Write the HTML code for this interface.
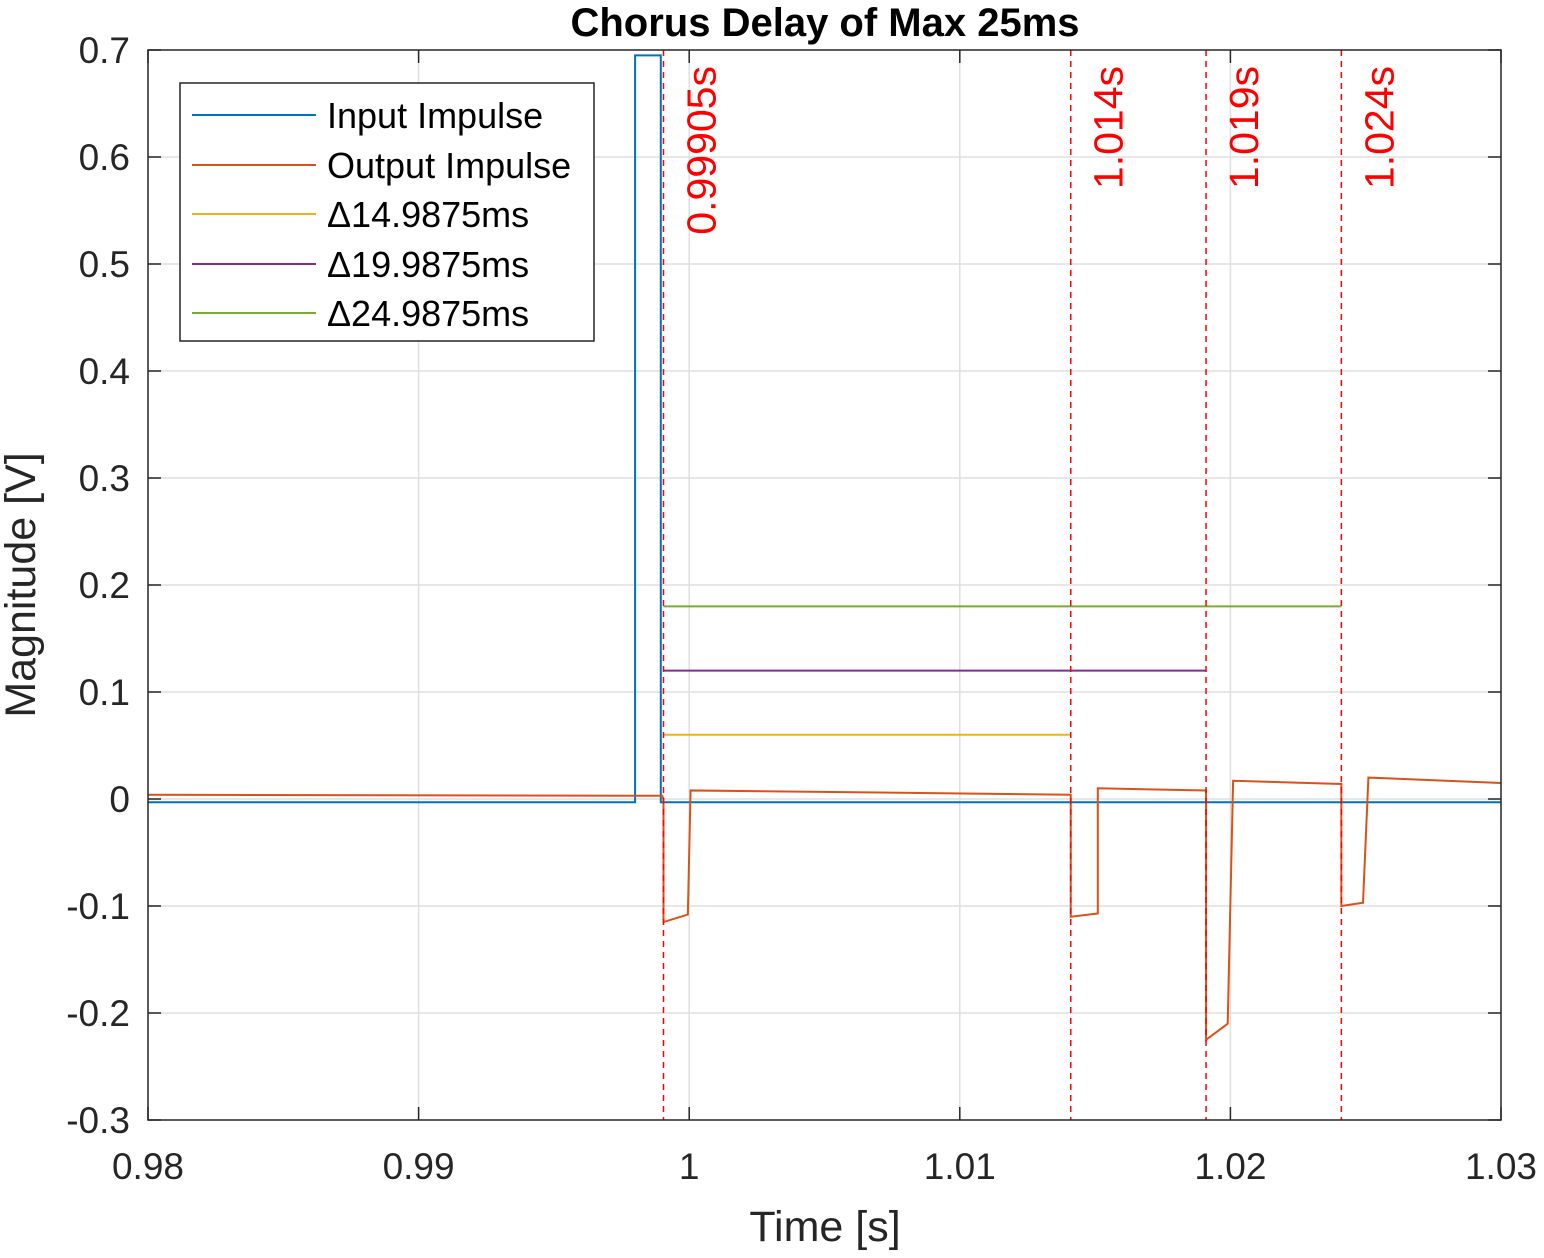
<!DOCTYPE html>
<html><head><meta charset="utf-8"><style>
body{margin:0;background:#fff;}
svg text{font-family:"Liberation Sans",Arial,sans-serif;}
</style></head><body>
<svg id="chart" width="1544" height="1253" xmlns="http://www.w3.org/2000/svg">
<rect width="1544" height="1253" fill="#fff"/>
<g id="grid"></g>
<g id="series"></g>
<g id="axes"></g>
<text x="825" y="36" text-anchor="middle" font-size="40" font-weight="bold">Chorus Delay of Max 25ms</text>
<text x="825" y="1241" text-anchor="middle" font-size="43" fill="#262626">Time [s]</text>
<text transform="translate(35,585) rotate(-90)" text-anchor="middle" font-size="43" fill="#262626">Magnitude [V]</text>
<g>
<rect x="180" y="83" width="414" height="258" fill="#fff" stroke="#262626" stroke-width="1.5"/>
<line x1="192" y1="115" x2="316" y2="115" stroke="#0072BD" stroke-width="2"/><text x="327" y="128" font-size="36">Input Impulse</text>
<line x1="192" y1="165" x2="316" y2="165" stroke="#D95319" stroke-width="2"/><text x="327" y="178" font-size="36">Output Impulse</text>
<line x1="192" y1="214" x2="316" y2="214" stroke="#EDB120" stroke-width="2"/><text x="327" y="227" font-size="36">Δ14.9875ms</text>
<line x1="192" y1="264" x2="316" y2="264" stroke="#7E2F8E" stroke-width="2"/><text x="327" y="277" font-size="36">Δ19.9875ms</text>
<line x1="192" y1="313" x2="316" y2="313" stroke="#77AC30" stroke-width="2"/><text x="327" y="326" font-size="36">Δ24.9875ms</text>
</g>
</svg>
<script>
const xTicks=[0.98,0.99,1,1.01,1.02,1.03];
const xTickLabels=["0.98","0.99","1","1.01","1.02","1.03"];
const yTicks=[-0.3,-0.2,-0.1,0,0.1,0.2,0.3,0.4,0.5,0.6,0.7];
const yTickLabels=["-0.3","-0.2","-0.1","0","0.1","0.2","0.3","0.4","0.5","0.6","0.7"];
const inputT=[0.98,0.998,0.998,0.99895,0.99895,1.03];
const inputV=[-0.003,-0.003,0.695,0.695,-0.003,-0.003];
const outputT=[0.98,0.999,0.99905,0.99905,0.99995,1.00005,1.0141,1.0141,1.0151,1.0151,1.0191,1.0191,1.0199,1.0201,1.0241,1.0241,1.0249,1.0251,1.03];
const outputV=[0.004,0.003,0.0,-0.115,-0.108,0.008,0.004,-0.11,-0.107,0.01,0.008,-0.225,-0.21,0.017,0.014,-0.1,-0.097,0.02,0.015];
const markerTimes=[0.99905,1.0141,1.0191,1.0241];
const markerLabels=["0.99905s","1.014s","1.019s","1.024s"];
const deltaLevels=[0.06,0.12,0.18];
const deltaEnds=[1.0141,1.0191,1.0241];
const deltaColors=["#EDB120","#7E2F8E","#77AC30"];
const X0=148,X1=1501,Y0=50,Y1=1120;
const xs=t=>X0+(t-0.98)/0.05*(X1-X0);
const ys=v=>Y1-(v+0.3)/1.0*(Y1-Y0);
const NS="http://www.w3.org/2000/svg";
function mk(tag,attrs,parent){const e=document.createElementNS(NS,tag);for(const k in attrs)e.setAttribute(k,attrs[k]);document.getElementById(parent).appendChild(e);return e;}
xTicks.forEach((t,i)=>{
 if(i>0&&i<xTicks.length-1){const g=mk('line',{x1:xs(t),x2:xs(t),y1:Y0,y2:Y1,stroke:'#dfdfdf','stroke-width':1.5},'grid');}
 const tk=mk('line',{x1:xs(t),x2:xs(t),y1:Y1,y2:Y1-13,stroke:'#262626','stroke-width':1.5},'axes');
 const tk2=mk('line',{x1:xs(t),x2:xs(t),y1:Y0,y2:Y0+13,stroke:'#262626','stroke-width':1.5},'axes');
 const tx=mk('text',{x:xs(t),y:1179,'text-anchor':'middle','font-size':37,fill:'#262626'},'axes');tx.textContent=xTickLabels[i];
});
yTicks.forEach((v,i)=>{
 if(i>0&&i<yTicks.length-1){const g=mk('line',{x1:X0,x2:X1,y1:ys(v),y2:ys(v),stroke:'#dfdfdf','stroke-width':1.5},'grid');}
 const tk=mk('line',{x1:X0,x2:X0+13,y1:ys(v),y2:ys(v),stroke:'#262626','stroke-width':1.5},'axes');
 const tk2=mk('line',{x1:X1-13,x2:X1,y1:ys(v),y2:ys(v),stroke:'#262626','stroke-width':1.5},'axes');
 const tx=mk('text',{x:130,y:ys(v)+13,'text-anchor':'end','font-size':37,fill:'#262626'},'axes');tx.textContent=yTickLabels[i];
});
const box=mk('rect',{x:X0,y:Y0,width:X1-X0,height:Y1-Y0,fill:'none',stroke:'#262626','stroke-width':1.5},'axes');

const pts=(T,V)=>T.map((t,i)=>xs(t)+','+ys(V[i])).join(' ');
const inp=mk('polyline',{points:pts(inputT,inputV),fill:'none',stroke:'#0072BD','stroke-width':2},'series');

const out=mk('polyline',{points:pts(outputT,outputV),fill:'none',stroke:'#D95319','stroke-width':2},'series');

deltaLevels.forEach((v,i)=>{
 const l=mk('line',{x1:xs(markerTimes[0]),x2:xs(deltaEnds[i]),y1:ys(v),y2:ys(v),stroke:deltaColors[i],'stroke-width':2},'series');
 
});
markerTimes.forEach((t,i)=>{
 const l=mk('line',{x1:xs(t),x2:xs(t),y1:Y0,y2:Y1,stroke:'#FF0000','stroke-width':1.5,'stroke-dasharray':'6,5'},'series');
 
 const tx=mk('text',{transform:`translate(${xs(t)+52},66) rotate(-90)`,'text-anchor':'end','font-size':41,fill:'#FF0000'},'series');
 tx.textContent=markerLabels[i];
});
</script>
</body></html>
